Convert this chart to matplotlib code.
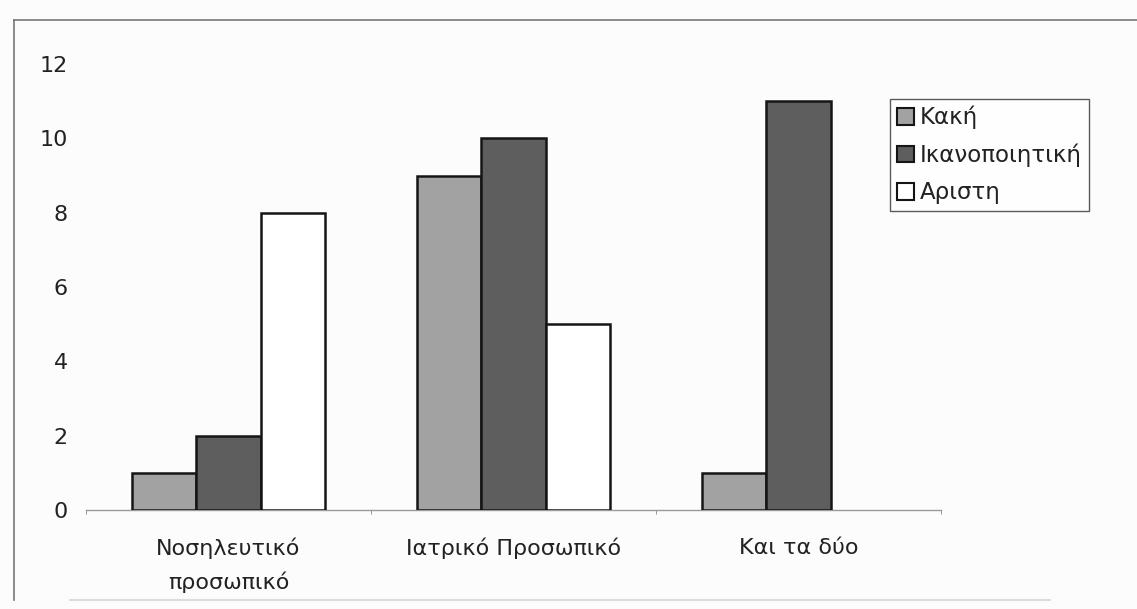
import matplotlib
matplotlib.use('Agg')
import matplotlib.pyplot as plt
from matplotlib.lines import Line2D
from matplotlib.patches import Patch
import numpy as np

plt.rcParams['font.family'] = ['DejaVu Sans']

# survey answers per staff group
categories = ['Νοσηλευτικό\nπροσωπικό', 'Ιατρικό Προσωπικό', 'Και τα δύο']
series_names = ['Κακή', 'Ικανοποιητική', 'Αριστη']
kaki = [1, 9, 1]
ikanopoiitiki = [2, 10, 11]
aristi = [8, 5, 0]
yticks = [0, 2, 4, 6, 8, 10, 12]

colors = ['#a2a2a2', '#5e5e5e', '#ffffff']

W, H = 1137, 609
fig = plt.figure(figsize=(W / 100, H / 100), dpi=100)
fig.patch.set_facecolor('#fcfcfc')

# plot area in pixel terms
x0, x1, ybot, ytop = 86, 941, 510, 64
ax = fig.add_axes([x0 / W, 1 - ybot / H, (x1 - x0) / W, (ybot - ytop) / H])
ax.set_facecolor('none')

x = np.arange(len(categories))
bw = 0.225
for i, (vals, c, name) in enumerate(zip([kaki, ikanopoiitiki, aristi], colors, series_names)):
    lw = [1.8 if v else 0 for v in vals]
    ax.bar(x + (i - 1) * bw, vals, bw, color=c, edgecolor='#151515',
           linewidth=lw, label=name, zorder=3)

fs = 16
ax.set_xlim(-0.5, len(categories) - 0.5)
ax.set_ylim(0, 12)
ax.set_yticks(yticks)
ax.set_xticks(x)
ax.set_xticklabels(categories, fontsize=fs, color='#222222', linespacing=1.7)
ax.set_xticks(np.arange(len(categories) + 1) - 0.5, minor=True)
ax.tick_params(axis='x', which='major', length=0, pad=20)
ax.tick_params(axis='x', which='minor', length=3, color='#888888')
ax.tick_params(axis='y', length=0, pad=13, labelsize=fs, labelcolor='#222222')

for s in ['top', 'right', 'left']:
    ax.spines[s].set_visible(False)
ax.spines['bottom'].set_color('#9a9a9a')
ax.spines['bottom'].set_linewidth(1.0)

# legend box on the right
handles = [Patch(facecolor=c, edgecolor='#151515', linewidth=1.5) for c in colors]
leg = fig.legend(handles, series_names, loc='upper left',
                 bbox_to_anchor=(890 / W, 1 - 99 / H), bbox_transform=fig.transFigure,
                 fontsize=16.5, frameon=True, fancybox=False, shadow=False,
                 handlelength=0.75, handleheight=0.75, handletextpad=0.25,
                 borderpad=0.3, labelspacing=0.62, borderaxespad=0)
leg.get_frame().set_edgecolor('#333333')
leg.get_frame().set_linewidth(1.0)
leg.get_frame().set_facecolor('white')
for t in leg.get_texts():
    t.set_color('#222222')

# outer border of the chart
fig.add_artist(Line2D([14 / W, 1.0], [1 - 20 / H, 1 - 20 / H], color='#777777', lw=1.2))
fig.add_artist(Line2D([14 / W, 14 / W], [1 - 20 / H, 1 - 600 / H], color='#777777', lw=1.2))
fig.add_artist(Line2D([70 / W, 1050 / W], [1 - 600 / H, 1 - 600 / H], color='#dddddd', lw=1.5))

fig.savefig('out.png', dpi=100, facecolor=fig.get_facecolor())
